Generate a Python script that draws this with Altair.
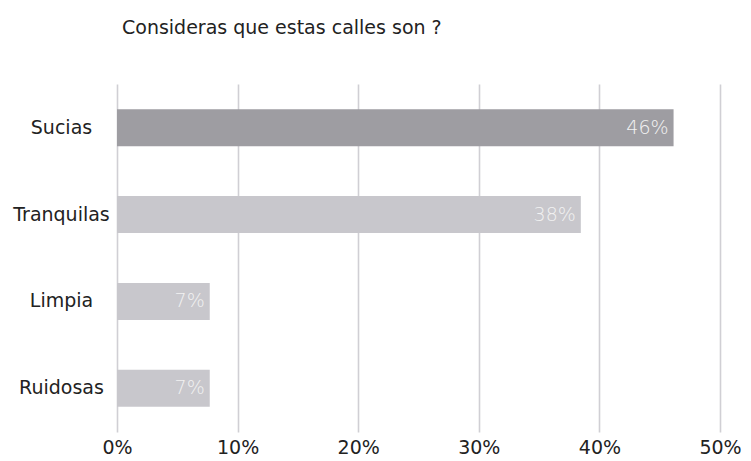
import altair as alt
import pandas as pd

categories = ["Sucias", "Tranquilas", "Limpia", "Ruidosas"]
values = [46.15, 38.46, 7.69, 7.69]
labels = ["46%", "38%", "7%", "7%"]
colors = ["#9e9da2", "#c8c7cc", "#c8c7cc", "#c8c7cc"]

df = pd.DataFrame({"cat": categories, "val": values, "lab": labels, "col": colors})

FONT = "DejaVu Sans"

x = alt.X("val:Q", scale=alt.Scale(domain=[0, 50], nice=False),
          axis=alt.Axis(values=[0, 10, 20, 30, 40, 50], labelExpr="datum.value + '%'",
                        title=None, domain=False, ticks=False, grid=True, labelFlush=False,
                        gridColor="#d0cfd4", gridWidth=1.6, labelFontSize=19,
                        labelColor="#222222", labelFont=FONT, labelPadding=6))
y = alt.Y("cat:N", sort=categories,
          scale=alt.Scale(paddingInner=0.575, paddingOuter=0.29),
          axis=alt.Axis(title=None, domain=False, ticks=False, labelFontSize=19,
                        labelAlign="center", labelColor="#222222", labelFont=FONT,
                        labelPadding=56))

bars = alt.Chart(df).mark_bar().encode(x=x, y=y, color=alt.Color("col:N", scale=None))
text = alt.Chart(df).mark_text(align="right", dx=-5, fontSize=19, color="#f2f2f2",
                               font=FONT, fontWeight=200).encode(
    x="val:Q", y=alt.Y("cat:N", sort=categories), text="lab:N")

chart = (bars + text).properties(
    width=603, height=348,
    title=alt.TitleParams("Consideras que estas calles son ?", anchor="start", frame="group",
                          fontSize=19, font=FONT, fontWeight="normal", color="#222222",
                          offset=46, dx=5),
    autosize=alt.AutoSizeParams(type="none"),
    padding={"left": 109, "top": 76, "right": 22, "bottom": 36},
).configure_view(stroke=None)

chart.save("out.html", embed_options={"renderer": "svg", "actions": False})
